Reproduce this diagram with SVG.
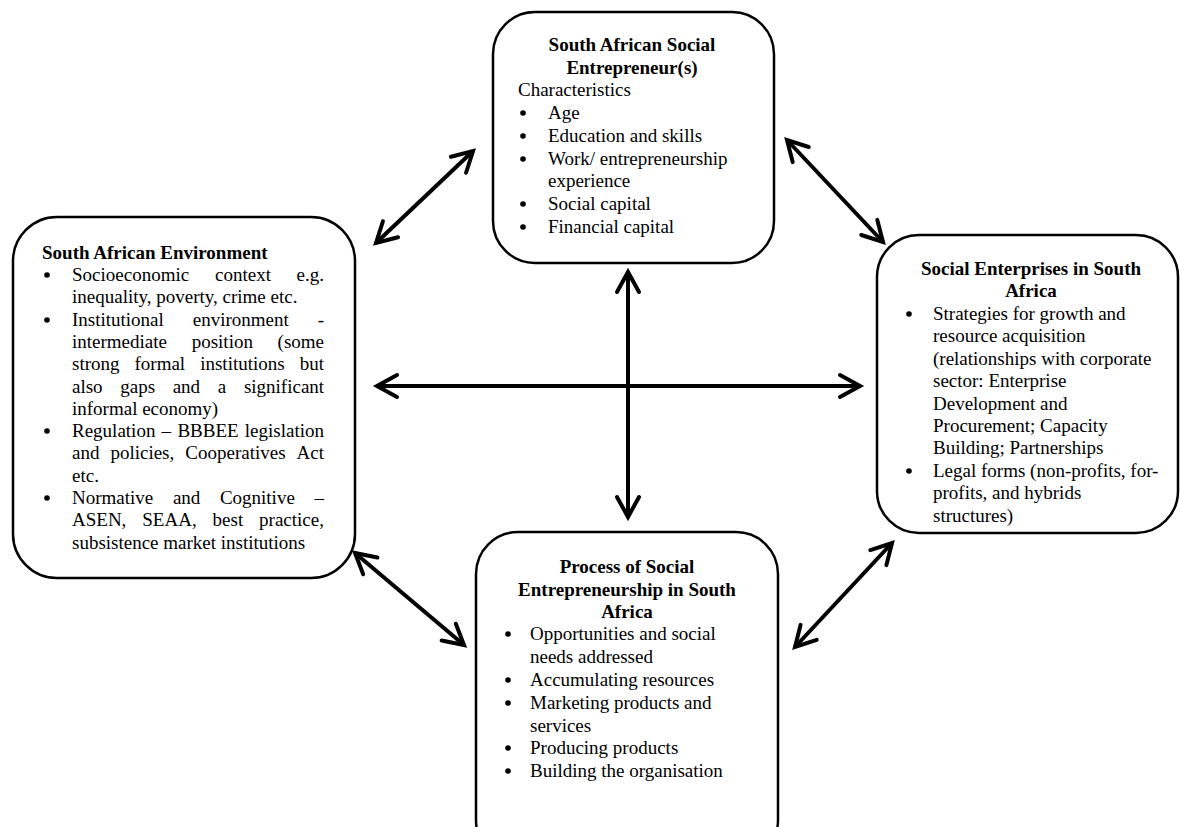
<svg xmlns="http://www.w3.org/2000/svg" width="1180" height="827" viewBox="0 0 1180 827">
<style>
.box{fill:#fff;stroke:#000;stroke-width:2.5}
.t{font-family:"Liberation Serif","Times New Roman",serif;font-size:19px;fill:#000}
.b{font-weight:bold}
.c{text-anchor:middle}
.bul{fill:#000}
.conn{stroke:#000;stroke-width:4;fill:none;marker-start:url(#ah);marker-end:url(#ah)}
</style>
<defs>
<marker id="ah" markerUnits="userSpaceOnUse" markerWidth="30" markerHeight="30" viewBox="-25 -15 30 30" refX="0" refY="0" orient="auto-start-reverse" overflow="visible">
<path d="M-20,-11 L0,0 L-20,11" fill="none" stroke="#000" stroke-width="4" stroke-linecap="round" stroke-linejoin="miter"/>
</marker>
</defs>
<rect width="1180" height="827" fill="#fff"/>

<g id="connectors">
<line class="conn" x1="376" y1="243" x2="473" y2="151"/>
<line class="conn" x1="787" y1="140" x2="883" y2="242"/>
<line class="conn" x1="355" y1="553" x2="464" y2="645"/>
<line class="conn" x1="892" y1="543" x2="795" y2="647"/>
<line class="conn" x1="628" y1="272" x2="628" y2="517"/>
<line class="conn" x1="377" y1="386" x2="860" y2="386"/>
</g>

<g id="node-entrepreneur">
<rect class="box" x="493" y="12" width="281" height="251" rx="42"/>
<text class="t b c" x="632" y="51">South African Social</text>
<text class="t b c" x="632" y="74">Entrepreneur(s)</text>
<text class="t" x="518" y="96">Characteristics</text>
<circle class="bul" cx="523" cy="113" r="2.8"/>
<text class="t" x="548" y="119">Age</text>
<circle class="bul" cx="523" cy="136" r="2.8"/>
<text class="t" x="548" y="141.8">Education and skills</text>
<circle class="bul" cx="523" cy="159" r="2.8"/>
<text class="t" x="548" y="164.6">Work/ entrepreneurship</text>
<text class="t" x="548" y="187.4">experience</text>
<circle class="bul" cx="523" cy="204" r="2.8"/>
<text class="t" x="548" y="210.2">Social capital</text>
<circle class="bul" cx="523" cy="227" r="2.8"/>
<text class="t" x="548" y="233">Financial capital</text>
</g>

<g id="node-environment">
<rect class="box" x="13" y="217" width="342" height="361" rx="44"/>
<text class="t b" x="42" y="259">South African Environment</text>
<circle class="bul" cx="47" cy="275" r="2.8"/>
<text class="t" y="281"><tspan x="72">Socioeconomic</tspan><tspan x="215">context</tspan><tspan x="296.6">e.g.</tspan></text>
<text class="t" x="72" y="303.3">inequality, poverty, crime etc.</text>
<circle class="bul" cx="47" cy="320" r="2.8"/>
<text class="t" y="325.6"><tspan x="72">Institutional</tspan><tspan x="192.8">environment</tspan><tspan x="317.7">-</tspan></text>
<text class="t" y="347.9"><tspan x="72">intermediate</tspan><tspan x="191.7">position</tspan><tspan x="277.6">(some</tspan></text>
<text class="t" y="370.2"><tspan x="72">strong</tspan><tspan x="134.5">formal</tspan><tspan x="200.2">institutions</tspan><tspan x="299.7">but</tspan></text>
<text class="t" y="392.5"><tspan x="72">also</tspan><tspan x="120.3">gaps</tspan><tspan x="172.7">and</tspan><tspan x="217.8">a</tspan><tspan x="243.9">significant</tspan></text>
<text class="t" x="72" y="414.8">informal economy)</text>
<circle class="bul" cx="47" cy="431" r="2.8"/>
<text class="t" y="437.1"><tspan x="72">Regulation</tspan><tspan x="161.6">–</tspan><tspan x="177.4">BBBEE</tspan><tspan x="244.8">legislation</tspan></text>
<text class="t" y="459.4"><tspan x="72">and</tspan><tspan x="110.4">policies,</tspan><tspan x="185.3">Cooperatives</tspan><tspan x="296.6">Act</tspan></text>
<text class="t" x="72" y="481.7">etc.</text>
<circle class="bul" cx="47" cy="498" r="2.8"/>
<text class="t" y="504"><tspan x="72">Normative</tspan><tspan x="172.9">and</tspan><tspan x="219.9">Cognitive</tspan><tspan x="314.5">–</tspan></text>
<text class="t" y="526.3"><tspan x="72">ASEN,</tspan><tspan x="142.3">SEAA,</tspan><tspan x="212.6">best</tspan><tspan x="259.1">practice,</tspan></text>
<text class="t" x="72" y="548.6">subsistence market institutions</text>
</g>

<g id="node-enterprises">
<rect class="box" x="877" y="235" width="301" height="298" rx="42"/>
<text class="t b c" x="1031" y="275">Social Enterprises in South</text>
<text class="t b c" x="1031" y="297">Africa</text>
<circle class="bul" cx="909" cy="314" r="2.8"/>
<text class="t" x="933" y="320">Strategies for growth and</text>
<text class="t" x="933" y="342.4">resource acquisition</text>
<text class="t" x="933" y="364.8">(relationships with corporate</text>
<text class="t" x="933" y="387.2">sector: Enterprise</text>
<text class="t" x="933" y="409.6">Development and</text>
<text class="t" x="933" y="432">Procurement; Capacity</text>
<text class="t" x="933" y="454.4">Building; Partnerships</text>
<circle class="bul" cx="909" cy="471" r="2.8"/>
<text class="t" x="933" y="476.8">Legal forms (non-profits, for-</text>
<text class="t" x="933" y="499.2">profits, and hybrids</text>
<text class="t" x="933" y="521.6">structures)</text>
</g>

<g id="node-process">
<rect class="box" x="476" y="532" width="302" height="330" rx="42"/>
<text class="t b c" x="627" y="573">Process of Social</text>
<text class="t b c" x="627" y="595.5">Entrepreneurship in South</text>
<text class="t b c" x="627" y="618">Africa</text>
<circle class="bul" cx="508" cy="634" r="2.8"/>
<text class="t" x="530" y="640">Opportunities and social</text>
<text class="t" x="530" y="663">needs addressed</text>
<circle class="bul" cx="508" cy="680" r="2.8"/>
<text class="t" x="530" y="686">Accumulating resources</text>
<circle class="bul" cx="508" cy="703" r="2.8"/>
<text class="t" x="530" y="709">Marketing products and</text>
<text class="t" x="530" y="731.5">services</text>
<circle class="bul" cx="508" cy="748" r="2.8"/>
<text class="t" x="530" y="754">Producing products</text>
<circle class="bul" cx="508" cy="771" r="2.8"/>
<text class="t" x="530" y="777">Building the organisation</text>
</g>
</svg>
